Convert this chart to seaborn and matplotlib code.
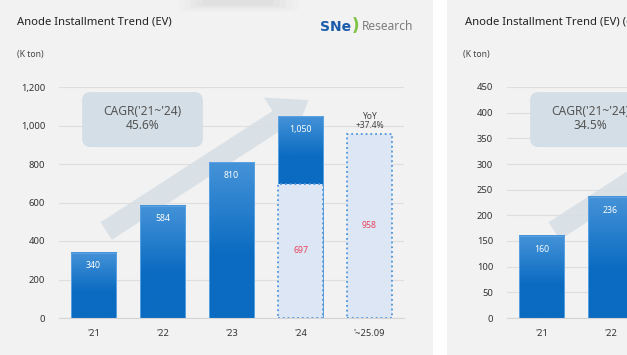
import numpy as np
import pandas as pd
import matplotlib
matplotlib.use('Agg')
import matplotlib.pyplot as plt
import matplotlib.colors as mcolors
from matplotlib.patches import Rectangle, FancyBboxPatch
from matplotlib.ticker import FuncFormatter
import seaborn as sns

# data
years = ["'21", "'22", "'23", "'24", "'~25.09"]
total_ev = [340, 584, 810, 1050, np.nan]      # full-year installed anode (K ton)
ytd_ev = [np.nan, np.nan, np.nan, 697, 958]   # Jan~Sep comparison
cagr_ev = '45.6%'
ticks_ev = [0, 200, 400, 600, 800, 1000, 1200]

years_r = ["'21", "'22"]                     # right panel, cut off by the crop
total_r = [160, 236]
cagr_r = '34.5%'
ticks_r = [0, 50, 100, 150, 200, 250, 300, 350, 400, 450]

sns.set_theme(style='white')
plt.rcParams['font.family'] = ['Noto Sans', 'DejaVu Sans']

BG = '#f2f2f2'
DARK = np.array(mcolors.to_rgb('#0a6bc1'))
LIGHT = np.array(mcolors.to_rgb('#4593d8'))


def grad_fill(ax, patch, lower):
    x0 = patch.get_x()
    w = patch.get_width()
    top = patch.get_y() + patch.get_height()
    t = np.linspace(0, 1, 120)
    f = np.clip(t / 0.6, 0, 1)[:, None]
    img = (LIGHT * (1 - f) + DARK * f)[:, None, :]
    ax.imshow(img, extent=(x0, x0 + w, lower, top), aspect='auto',
              origin='upper', zorder=2, interpolation='bilinear')
    patch.set_facecolor('none')
    patch.set_edgecolor('#5aa2e2')
    patch.set_linewidth(0.7)
    patch.set_zorder(3)


def draw_panel(ax, cats, totals, ytd, ticks, cagr):
    n_show = 5
    df = pd.DataFrame({'year': cats, 'val': totals}).dropna()
    sns.barplot(data=df, x='year', y='val', order=cats, width=0.66,
                color='#0a6bc1', ax=ax)
    bars = list(ax.patches)
    for p, yv in zip(bars, ytd if ytd is not None else [np.nan] * len(bars)):
        lower = 0 if np.isnan(yv) else yv
        grad_fill(ax, p, lower)
        ax.annotate(f'{p.get_height():,.0f}', (p.get_x() + p.get_width() / 2, p.get_height()),
                    xytext=(0, -9.5), textcoords='offset points', ha='center', va='center',
                    fontsize=6.3, color='white', zorder=6)

    if ytd is not None:
        dy = pd.DataFrame({'year': cats, 'val': ytd}).dropna()
        n0 = len(ax.patches)
        sns.barplot(data=dy, x='year', y='val', order=cats, width=0.66,
                    color='#dce6f5', edgecolor='#4f95dc', linestyle=':',
                    linewidth=1.3, ax=ax)
        for p in ax.patches[n0:]:
            p.set_facecolor('#dce6f5')
            p.set_zorder(4)
            ax.text(p.get_x() + p.get_width() / 2, p.get_height() / 2,
                    f'{p.get_height():,.0f}', ha='center', va='center',
                    fontsize=6.3, color='#e8455a', zorder=6)
        # yoy over the last box
        last = ax.patches[-1]
        prev = ytd[-2]
        yoy = last.get_height() / prev - 1
        ax.annotate(f'YoY\n+{yoy * 100:.1f}%', (last.get_x() + last.get_width() / 2, last.get_height()),
                    xytext=(0, 2.5), textcoords='offset points', ha='center', va='bottom',
                    fontsize=6.1, color='#444444', linespacing=1.0, zorder=6)

    ax.set_xlim(-0.5, n_show - 0.5)
    ax.set_ylim(0, ticks[-1])
    ax.set_yticks(ticks)
    ax.yaxis.set_major_formatter(FuncFormatter(lambda v, _: f'{v:,.0f}'))
    ax.set_facecolor(BG)
    ax.patch.set_alpha(0)
    ax.grid(axis='y', color='#dedede', linewidth=0.8, zorder=0)
    ax.set_axisbelow(True)
    for s in ['top', 'right', 'left']:
        ax.spines[s].set_visible(False)
    ax.spines['bottom'].set_color('#d4d4d4')
    ax.spines['bottom'].set_linewidth(0.8)
    ax.set_xlabel('')
    ax.set_ylabel('')
    ax.set_xticks(np.arange(-0.5, n_show), minor=True)
    ax.tick_params(axis='x', which='major', length=0, pad=8, labelsize=6.7, labelcolor='#333333')
    ax.tick_params(axis='x', which='minor', length=3, color='#d4d4d4', width=0.8)
    ax.tick_params(axis='y', length=0, pad=10, labelsize=6.8, labelcolor='#333333')

    # growth arrow behind bars
    ax.annotate('', xy=(0.73, 0.95), xytext=(0.13, 0.37), xycoords='axes fraction',
                arrowprops=dict(arrowstyle='simple,head_length=1.3,head_width=1.9,tail_width=0.75',
                                mutation_scale=20, color='#d6dee5', alpha=0.85, lw=0),
                zorder=1)
    # CAGR box
    box = FancyBboxPatch((0.067, 0.74), 0.35, 0.238, boxstyle='round,pad=0,rounding_size=0.025',
                         mutation_aspect=345 / 231, transform=ax.transAxes,
                         facecolor='#d3dee6', edgecolor='none', zorder=5, clip_on=False)
    ax.add_patch(box)
    ax.text(0.242, 0.862, f"CAGR('21~'24)\n{cagr}", transform=ax.transAxes, ha='center',
            va='center', fontsize=8.6, color='#555555', linespacing=1.1, zorder=6)


fig = plt.figure(figsize=(6.27, 3.55), dpi=100)
fig.patch.set_facecolor('white')
fig.patches.append(Rectangle((0, 0), 433 / 627, 1, transform=fig.transFigure,
                             facecolor=BG, edgecolor='none', zorder=-10))
fig.patches.append(Rectangle((447 / 627, 0), 1, 1, transform=fig.transFigure,
                             facecolor=BG, edgecolor='none', zorder=-10))
# soft shadow at the top edge
for i, a in enumerate([0.03, 0.03, 0.04, 0.04, 0.05]):
    fig.patches.append(FancyBboxPatch(((182 + 6 * i) / 627, (346 + 1.5 * i) / 355), (112 - 12 * i) / 627, 0.04,
                                      boxstyle='round,pad=0.006', transform=fig.transFigure,
                                      facecolor='#9a9a9a', edgecolor='none', alpha=a, zorder=-9))

ax1 = fig.add_axes([59 / 627, 37 / 355, 345 / 627, 231 / 355])
ax2 = fig.add_axes([507 / 627, 37 / 355, 345 / 627, 231 / 355])

draw_panel(ax1, years, total_ev, ytd_ev, ticks_ev, cagr_ev)
draw_panel(ax2, years_r, total_r, None, ticks_r, cagr_r)

fig.text(17 / 627, 1 - 22 / 355, 'Anode Installment Trend (EV)', fontsize=8.1,
         color='#222222', va='center', ha='left')
fig.text(17 / 627, 1 - 54 / 355, '(K ton)', fontsize=6.2, color='#444444', va='center')
fig.text(465 / 627, 1 - 22 / 355, 'Anode Installment Trend (EV) (excl. China)', fontsize=8.1,
         color='#222222', va='center', ha='left')
fig.text(463 / 627, 1 - 54 / 355, '(K ton)', fontsize=6.2, color='#444444', va='center')

# logo
fig.text(320 / 627, 1 - 27 / 355, 'SNe', fontsize=10, fontweight='bold', color='#1b5bab',
         va='center', ha='left', family='DejaVu Sans')
fig.text(352 / 627, 1 - 26 / 355, ')', fontsize=12, fontweight='bold', color='#7cc243',
         va='center', ha='left', family='DejaVu Sans')
fig.text(362 / 627, 1 - 27 / 355, 'Research', fontsize=8.6, color='#7d7d7d', va='center', ha='left')

fig.savefig('out.png', dpi=100, facecolor=fig.get_facecolor())
